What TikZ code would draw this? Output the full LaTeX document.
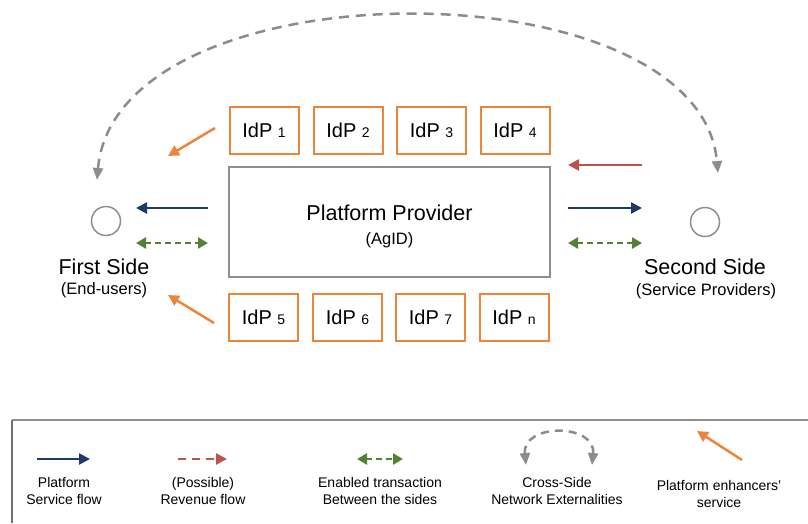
\documentclass[tikz,border=0pt]{standalone}
\usepackage{fontspec}
\setmainfont{Liberation Sans}
\usetikzlibrary{arrows.meta}
\definecolor{orng}{RGB}{236,133,58}
\definecolor{navy}{RGB}{30,58,104}
\definecolor{rvred}{RGB}{192,80,77}
\definecolor{grn}{RGB}{84,130,53}
\definecolor{arcgray}{RGB}{140,140,140}
\definecolor{boxgray}{RGB}{142,142,142}
\begin{document}
\begin{tikzpicture}[x=1pt,y=-1pt,
  idp/.style={draw=orng, line width=2pt, minimum width=69pt, minimum height=47pt, inner sep=0pt, font=\fontsize{20}{20}\selectfont},
  platbox/.style={draw=boxgray, line width=2pt, minimum width=321pt, minimum height=110pt, inner sep=0pt},
  sidecirc/.style={draw=boxgray, line width=1.5pt, circle, minimum size=29pt, inner sep=0pt},
  bigtxt/.style={font=\fontsize{21.5}{24}\selectfont, inner sep=0pt, anchor=base},
  subtxt/.style={font=\fontsize{16.5}{19}\selectfont, inner sep=0pt, anchor=base},
  legtxt/.style={font=\fontsize{14}{17}\selectfont, align=center, inner sep=0pt},
  servflow/.style={draw=navy, line width=2.5pt, -{Triangle[length=11pt,width=11pt]}},
  revflow/.style={draw=rvred, line width=2.5pt, -{Triangle[length=11pt,width=11pt]}},
  revdash/.style={draw=rvred, line width=2.5pt, dash pattern=on 8pt off 6pt, -{Triangle[length=11pt,width=11pt]}},
  trans/.style={draw=grn, line width=2.5pt, dash pattern=on 6pt off 4pt, {Triangle[length=10pt,width=11pt]}-{Triangle[length=10pt,width=11pt]}},
  enh/.style={draw=orng, line width=2.5pt, -{Triangle[length=11pt,width=11pt]}},
  extern/.style={draw=arcgray, line width=2.5pt, dash pattern=on 10pt off 7pt, {Triangle[length=12pt,width=10pt]}-{Triangle[length=12pt,width=10pt]}},
  legline/.style={draw=boxgray, line width=2.5pt}
]
\useasboundingbox (0,0) rectangle (808,523);
\fill[white] (0,0) rectangle (808,523);

% IdP boxes
\newcommand{\idplabel}[1]{IdP {\fontsize{14}{14}\selectfont #1}}
\node[idp] (idp1) at (264,130.5) {\idplabel{1}};
\node[idp] (idp2) at (348,130.5) {\idplabel{2}};
\node[idp] (idp3) at (431.5,130.5) {\idplabel{3}};
\node[idp] (idp4) at (515,130.5) {\idplabel{4}};
\node[idp] (idp5) at (263.5,317.5) {\idplabel{5}};
\node[idp] (idp6) at (347.5,317.5) {\idplabel{6}};
\node[idp] (idp7) at (430.5,317.5) {\idplabel{7}};
\node[idp] (idpn) at (514,317.5) {\idplabel{n}};

% platform
\node[platbox] (plat) at (389.5,222) {};
\node[bigtxt] (plattxt) at (389.5,220) {Platform Provider};
\node[subtxt] (agid) at (389.5,244) {(AgID)};

% sides
\node[sidecirc] (first) at (106,221) {};
\node[sidecirc] (second) at (705,222) {};
\node[bigtxt] (firsttxt) at (104,274) {First Side};
\node[subtxt] (firstsub) at (104,294) {(End-users)};
\node[bigtxt] (secondtxt) at (705,274) {Second Side};
\node[subtxt] (secondsub) at (706,295.5) {(Service Providers)};

% arrow end points
\coordinate (eU1) at (215,128);
\coordinate (eU2) at (168,156);
\coordinate (eL1) at (214,323);
\coordinate (eL2) at (168,295);
\coordinate (nL1) at (208,208);
\coordinate (nL2) at (136,208);
\coordinate (gL1) at (136,243);
\coordinate (gL2) at (208,243);
\coordinate (rR1) at (642,165);
\coordinate (rR2) at (568,165);
\coordinate (nR1) at (568,208);
\coordinate (nR2) at (642,208);
\coordinate (gR1) at (568,243);
\coordinate (gR2) at (642,243);
\coordinate (arcL) at (97,180);
\coordinate (arcR) at (718,173);

\draw[enh] (eU1) -- (eU2);
\draw[enh] (eL1) -- (eL2);
\draw[servflow] (nL1) -- (nL2);
\draw[trans] (gL1) -- (gL2);
\draw[revflow] (rR1) -- (rR2);
\draw[servflow] (nR1) -- (nR2);
\draw[trans] (gR1) -- (gR2);
\draw[extern] (arcL) .. controls (116,-37) and (699,-37) .. (arcR);

% legend frame
\coordinate (frTL) at (12,420);
\coordinate (frTR) at (808,420);
\coordinate (frBL) at (12,523);
\draw[legline] (frTL) -- (frTR);
\draw[draw=boxgray!80!black, line width=1.2pt] (frTL) -- (frBL);

% legend items
\coordinate (l1a) at (37,459);
\coordinate (l1b) at (90,459);
\draw[servflow] (l1a) -- (l1b);
\node[legtxt] (lt1) at (64,491) {Platform\\Service flow};

\coordinate (l2a) at (178,459);
\coordinate (l2b) at (227,459);
\draw[revdash] (l2a) -- (l2b);
\node[legtxt] (lt2) at (203,491) {(Possible)\\Revenue flow};

\coordinate (l3a) at (357,459);
\coordinate (l3b) at (403,459);
\draw[trans] (l3a) -- (l3b);
\node[legtxt] (lt3) at (380,491) {Enabled transaction\\Between the sides};

\coordinate (l4a) at (526,465);
\coordinate (l4b) at (592,465);
\draw[extern, dash pattern=on 8pt off 6pt] (l4a) .. controls (522,423) and (596,423) .. (l4b);
\node[legtxt] (lt5a) at (557,491) {Cross-Side\\Network Externalities};

\coordinate (l5a) at (742,460);
\coordinate (l5b) at (697,431);
\draw[enh] (l5a) -- (l5b);
\node[legtxt] (lt5) at (719,494) {Platform enhancers'\\service};
\end{tikzpicture}
\end{document}
